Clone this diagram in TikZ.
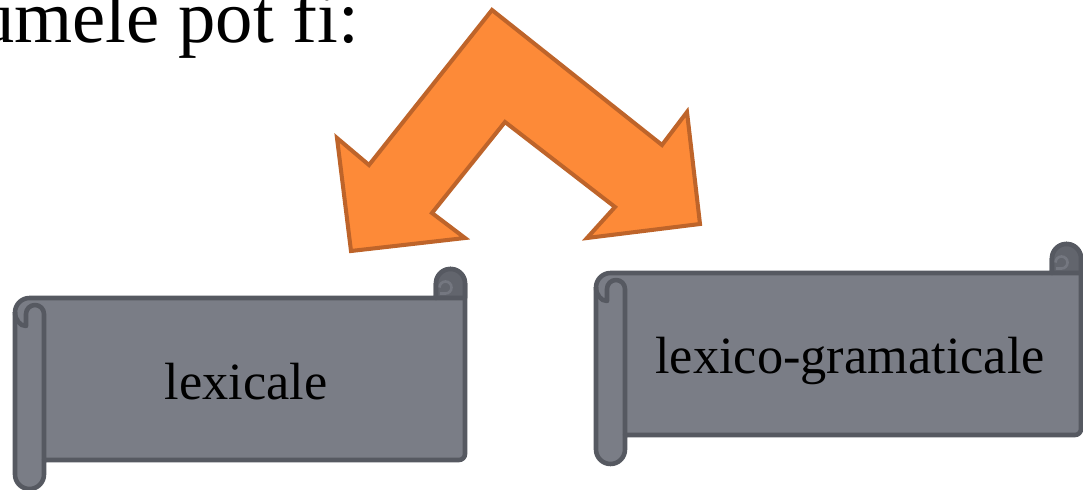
\documentclass[tikz,border=0pt]{standalone}
\usepackage{fontspec}
\setmainfont{Liberation Serif}
\usetikzlibrary{positioning}
\definecolor{scrollgray}{RGB}{122,125,134}
\definecolor{scrolledge}{RGB}{86,89,97}
\definecolor{scrolldark}{RGB}{98,101,109}
\definecolor{curlline}{RGB}{116,119,128}
\definecolor{arroworange}{RGB}{253,138,56}
\definecolor{arrowedge}{RGB}{190,100,42}

% horizontal scroll banner: left, top, right, bottom (px)
\newcommand{\scrollbanner}[4]{%
  \pgfmathsetmacro\sL{#1}\pgfmathsetmacro\sT{#2}%
  \pgfmathsetmacro\sR{#3}\pgfmathsetmacro\sB{#4}%
  \pgfmathsetmacro\sC{29}\pgfmathsetmacro\sH{14.5}%
  \filldraw[scroll] (\sL,\sT+\sC+\sH) arc[start angle=180,end angle=270,radius=\sH]
    -- (\sR-\sC,\sT+\sC) -- (\sR-\sC,\sT+\sH) arc[start angle=180,end angle=360,radius=\sH]
    -- (\sR,\sB-\sC-6) arc[start angle=0,end angle=90,radius=6]
    -- (\sL+\sC,\sB-\sC) -- (\sL+\sC,\sB-\sH) arc[start angle=0,end angle=180,radius=\sH]
    -- cycle;
  \filldraw[scroll, fill=scrolldark] (\sR-\sC,\sT+\sC) -- (\sR-\sC,\sT+\sH)
    arc[start angle=180,end angle=360,radius=\sH] -- (\sR,\sT+\sC) -- cycle;
  \draw[curl] (\sR-\sH-11,\sT+\sH+4) arc[start angle=180,end angle=450,radius=6]
    -- (\sR-\sC+4,\sT+\sH+10);
  \draw[scroll] (\sL,\sT+\sC+14) arc[start angle=180,end angle=90,x radius=11,y radius=14]
    -- (\sL+11,\sT+\sC+16) arc[start angle=180,end angle=360,radius=9]
    -- (\sL+\sC,\sB-\sC);
}

\begin{document}
\begin{tikzpicture}[
    x=0.02cm, y=-0.02cm,
    scroll/.style={
        draw=scrolledge,
        fill=scrollgray,
        line width=2.6pt,
        line join=round
      },
    curl/.style={
        draw=curlline,
        line width=1.5pt
      },
    splitarrow/.style={
        draw=arrowedge,
        fill=arroworange,
        line width=2.3pt,
        line join=miter
      },
    bannertext/.style={
        font=\fontsize{29.8}{34}\selectfont,
        text=black
      },
    headtext/.style={
        font=\fontsize{42.5}{48}\selectfont,
        text=black
      }
  ]
  \useasboundingbox (0,0) rectangle (1083,490);
  \clip (0,0) rectangle (1083,490);

  \node[headtext, anchor=base west, inner sep=0pt] (title) at (-23,42) {umele pot fi:};

  % bent double arrow
  \filldraw[splitarrow] (492,10) -- (662,145) -- (687,112) -- (700,224) -- (587,238)
    -- (615,207) -- (505,122) -- (432,213) -- (465,238) -- (351,251)
    -- (337,138) -- (369,165) -- cycle;

  \scrollbanner{15}{269}{465}{489}
  \scrollbanner{596}{244}{1081}{464}

  \node[bannertext] (lex) at (246,382) {lexicale};
  \node[bannertext] (lexgram) at (850,361) {lexico-gramaticale};
\end{tikzpicture}
\end{document}
